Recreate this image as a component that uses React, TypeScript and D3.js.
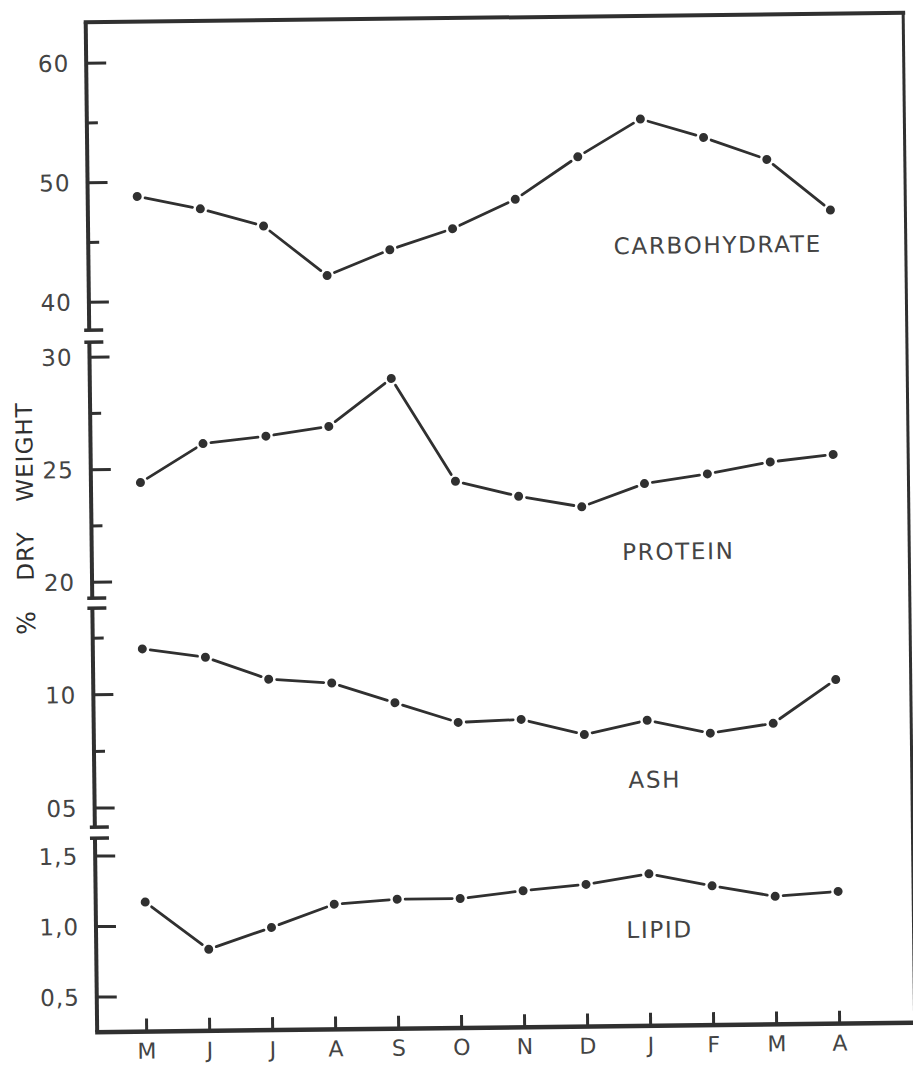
import React from 'react';
import * as d3 from 'd3';

// values, one per month (May .. April)
const months = ['M', 'J', 'J', 'A', 'S', 'O', 'N', 'D', 'J', 'F', 'M', 'A'];
const carbohydrate = [48.8, 47.7, 46.2, 42.0, 44.1, 45.8, 48.2, 51.7, 54.8, 53.2, 51.3, 47.0];
const protein = [24.4, 26.1, 26.4, 26.8, 28.9, 24.3, 23.6, 23.1, 24.1, 24.5, 25.0, 25.3];
const ash = [12.0, 11.6, 10.6, 10.4, 9.5, 8.6, 8.7, 8.0, 8.6, 8.0, 8.4, 10.3];
const lipid = [1.17, 0.83, 0.98, 1.14, 1.17, 1.17, 1.22, 1.26, 1.33, 1.24, 1.16, 1.19];

const carbTicks = [40, 50, 60];
const carbTickLabels = ['40', '50', '60'];
const carbMinor = [45, 55];
const proteinTicks = [20, 25, 30];
const proteinTickLabels = ['20', '25', '30'];
const proteinMinor = [22.5, 27.5];
const ashTicks = [5, 10];
const ashTickLabels = ['05', '10'];
const ashMinor = [7.5, 12.5];
const lipidTicks = [0.5, 1.0, 1.5];
const lipidTickLabels = ['0,5', '1,0', '1,5'];

const W = 913;
const H = 1065;
const axisX = 91.5;
const rightX = 909;
const topY = 18;
const baseY = 1028;
const ink = '#303030';
const textInk = '#444';
const font = '"DejaVu Sans", sans-serif';

const x = d3.scalePoint<number>().domain(d3.range(months.length)).range([141, 834]);

const panels = [
  {
    name: 'CARBOHYDRATE', values: carbohydrate,
    y: d3.scaleLinear().domain([40, 60]).range([298, 59]),
    ticks: carbTicks, tickLabels: carbTickLabels, minor: carbMinor,
    top: topY, bottom: 326, label: [721, 256],
  },
  {
    name: 'PROTEIN', values: protein,
    y: d3.scaleLinear().domain([20, 30]).range([578, 353]),
    ticks: proteinTicks, tickLabels: proteinTickLabels, minor: proteinMinor,
    top: 338, bottom: 594, label: [678, 562],
  },
  {
    name: 'ASH', values: ash,
    y: d3.scaleLinear().domain([5, 12.5]).range([804, 634]),
    ticks: ashTicks, tickLabels: ashTickLabels, minor: ashMinor,
    top: 604, bottom: 823, label: [652, 790],
  },
  {
    name: 'LIPID', values: lipid,
    y: d3.scaleLinear().domain([0.5, 1.5]).range([993, 852]),
    ticks: lipidTicks, tickLabels: lipidTickLabels, minor: [] as number[],
    top: 834, bottom: baseY, label: [655, 940],
  },
];

// the joining strokes stop short of each dot, as in the hand drawing
function segments(pts: [number, number][], gap: number) {
  const out: [number, number, number, number][] = [];
  for (let i = 1; i < pts.length; i++) {
    const [x1, y1] = pts[i - 1];
    const [x2, y2] = pts[i];
    const len = Math.hypot(x2 - x1, y2 - y1);
    const ux = (x2 - x1) / len;
    const uy = (y2 - y1) / len;
    out.push([x1 + ux * gap, y1 + uy * gap, x2 - ux * gap, y2 - uy * gap]);
  }
  return out;
}

export default function App() {
  return (
    <svg width={W} height={H} style={{ display: 'block', position: 'absolute', left: 0, top: 0, background: '#fff' }}>
      <g transform={`rotate(-0.65, 456, 530)`}>
        {/* frame */}
        <line x1={axisX - 2} x2={rightX + 2} y1={topY} y2={topY} stroke={ink} strokeWidth={4} />
        <line x1={rightX} x2={rightX} y1={topY} y2={baseY} stroke={ink} strokeWidth={3} />
        <line x1={axisX - 2} x2={W + 20} y1={baseY} y2={baseY} stroke={ink} strokeWidth={4.5} />

        {panels.map((p) => {
          const pts = p.values.map((v, i) => [x(i) as number, p.y(v)] as [number, number]);
          return (
            <g key={p.name}>
              <line x1={axisX} x2={axisX} y1={p.top} y2={p.bottom} stroke={ink} strokeWidth={4} />
              {p.top !== topY && (
                <line x1={axisX - 5} x2={axisX + 14} y1={p.top} y2={p.top} stroke={ink} strokeWidth={3.5} />
              )}
              {p.bottom !== baseY && (
                <line x1={axisX - 5} x2={axisX + 14} y1={p.bottom} y2={p.bottom} stroke={ink} strokeWidth={3.5} />
              )}
              {p.ticks.map((t, i) => (
                <g key={t}>
                  <line x1={axisX} x2={axisX + 20} y1={p.y(t)} y2={p.y(t)} stroke={ink} strokeWidth={3} />
                  <text x={axisX - 17} y={p.y(t)} dy="0.36em" textAnchor="end" fontFamily={font}
                    fontSize={23} letterSpacing={1} fill={textInk}>{p.tickLabels[i]}</text>
                </g>
              ))}
              {p.minor.map((t) => (
                <line key={t} x1={axisX} x2={axisX + 11} y1={p.y(t)} y2={p.y(t)} stroke={ink} strokeWidth={3} />
              ))}
              {segments(pts, 8).map((s, i) => (
                <line key={i} x1={s[0]} y1={s[1]} x2={s[2]} y2={s[3]} stroke={ink} strokeWidth={2.8} strokeLinecap="round" />
              ))}
              {pts.map(([cx, cy], i) => (
                <circle key={i} cx={cx} cy={cy} r={4.5} fill={ink} />
              ))}
              <text x={p.label[0]} y={p.label[1]} textAnchor="middle" fontFamily={font} fontSize={23}
                letterSpacing={1.7} fill={textInk}>{p.name}</text>
            </g>
          );
        })}

        {/* month axis */}
        {months.map((m, i) => (
          <g key={i}>
            <line x1={x(i) as number} x2={x(i) as number} y1={baseY} y2={baseY - 13} stroke={ink} strokeWidth={3} />
            <text x={x(i) as number} y={1055} textAnchor="middle" fontFamily={font} fontSize={22} fill={textInk}>{m}</text>
          </g>
        ))}

        {/* y axis title */}
        <text transform="translate(25, 618) rotate(-90)" textAnchor="middle" dy="0.36em" fontFamily={font}
          fontSize={25} fill={ink}>%</text>
        <text transform="translate(25, 551) rotate(-90)" textAnchor="middle" dy="0.36em" fontFamily={font}
          fontSize={23} letterSpacing={1} fill={ink}>DRY</text>
        <text transform="translate(25, 447) rotate(-90)" textAnchor="middle" dy="0.36em" fontFamily={font}
          fontSize={23} letterSpacing={1} fill={ink}>WEIGHT</text>
      </g>
    </svg>
  );
}
